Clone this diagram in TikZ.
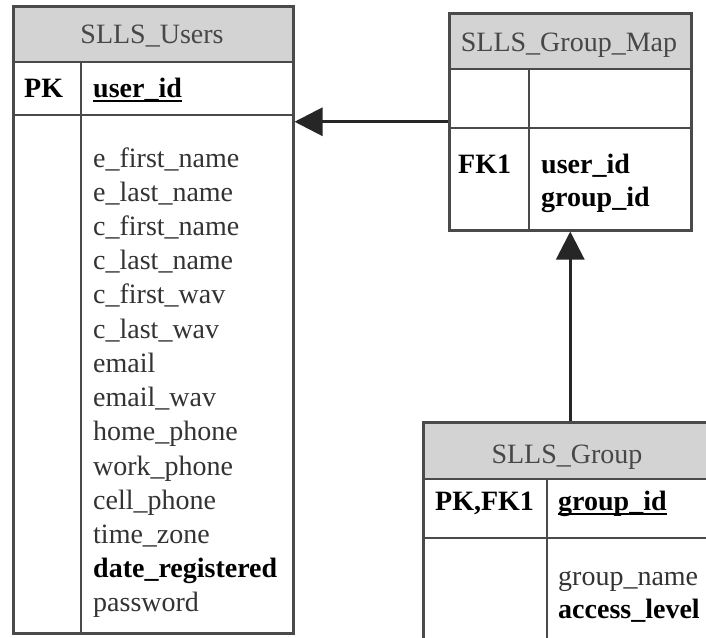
\documentclass[tikz,border=0pt]{standalone}
\usepackage{fontspec}
\setmainfont{Liberation Serif}
\usetikzlibrary{arrows.meta}
\definecolor{tblline}{HTML}{4A4A4A}   % table borders
\definecolor{hdrfill}{HTML}{D3D3D3}   % table title band
\definecolor{fldtext}{HTML}{333333}   % plain column names
\newcommand{\pkfield}[1]{\setbox0\hbox{#1}\rlap{\rule[-5pt]{\wd0}{2pt}}\box0}
\tikzset{>={Triangle[length=28pt,width=28pt]}}
\tikzset{
    tblbox/.style={draw=tblline, line width=2.5pt, inner sep=0pt, anchor=north west},
    tblsep/.style={draw=tblline, line width=2.5pt},
    hdrname/.style={text=black!72, anchor=base, font=\fontsize{28}{34}\selectfont},
    colkey/.style={text=black, anchor=base west, inner sep=0pt, font=\fontsize{28}{34}\selectfont\bfseries},
    colfld/.style={text=fldtext, anchor=base west, inner sep=0pt, font=\fontsize{28}{34}\selectfont},
    fk/.style={->, line width=3pt, draw=black!85},
}

\begin{document}
\begin{tikzpicture}[x=1pt,y=-1pt]
    \useasboundingbox (0,0) rectangle (706,637);
    \clip (0,0) rectangle (706,637);
    \fill[white] (0,0) rectangle (706,637);
    % SLLS_Users
    \fill[hdrfill] (12,5) rectangle (292,62);
    \node[tblbox, minimum width=280pt, minimum height=627pt] (users) at (12,5) {};
    \draw[tblsep] (12,62) -- (292,62) (12,115) -- (292,115) (81,62) -- (81,632);
    \node[hdrname] (usershdr) at (152,43) {SLLS\_Users};
    \node[colkey] (userspk) at (24,97) {PK};
    \node[colkey] (usersid) at (93,97) {\pkfield{user\_id}};
    \foreach \f [count=\i from 0] in {e\_first\_name, e\_last\_name, c\_first\_name, c\_last\_name,
        c\_first\_wav, c\_last\_wav, email, email\_wav, home\_phone, work\_phone, cell\_phone,
        time\_zone, {\bfseries\color{black}date\_registered}, password}
        \node[colfld] (ufld\i) at (93,{167+34.23*\i}) {\f};
    % SLLS_Group_Map
    \fill[hdrfill] (448,12) rectangle (690,69);
    \node[tblbox, minimum width=242pt, minimum height=217pt] (gmap) at (448,12) {};
    \draw[tblsep] (448,69) -- (690,69) (448,128) -- (690,128) (529,69) -- (529,229);
    \node[hdrname] (gmaphdr) at (569,51) {SLLS\_Group\_Map};
    \node[colkey] (gmapfk) at (458,173) {FK1};
    \node[colkey] (gmapuser) at (541,173) {user\_id};
    \node[colkey] (gmapgrp) at (541,206) {group\_id};
    % SLLS_Group
    \fill[hdrfill] (422,421) rectangle (712,479);
    \node[tblbox, minimum width=290pt, minimum height=240pt] (grp) at (422,421) {};
    \draw[tblsep] (422,479) -- (712,479) (422,538) -- (712,538) (547,479) -- (547,661);
    \node[hdrname] (grphdr) at (567,463) {SLLS\_Group};
    \node[colkey] (grppk) at (435,510) {PK,FK1};
    \node[colkey] (grpid) at (558,510) {\pkfield{group\_id}};
    \node[colfld] (grpname) at (558,585) {group\_name};
    \node[colkey] (grplevel) at (558,618) {access\_level};
    % relations
    \draw[fk] (gmap.west) -- (gmap.west -| users.east);
    \draw[fk] (gmap.south |- grp.north) -- (gmap.south);
\end{tikzpicture}
\end{document}
